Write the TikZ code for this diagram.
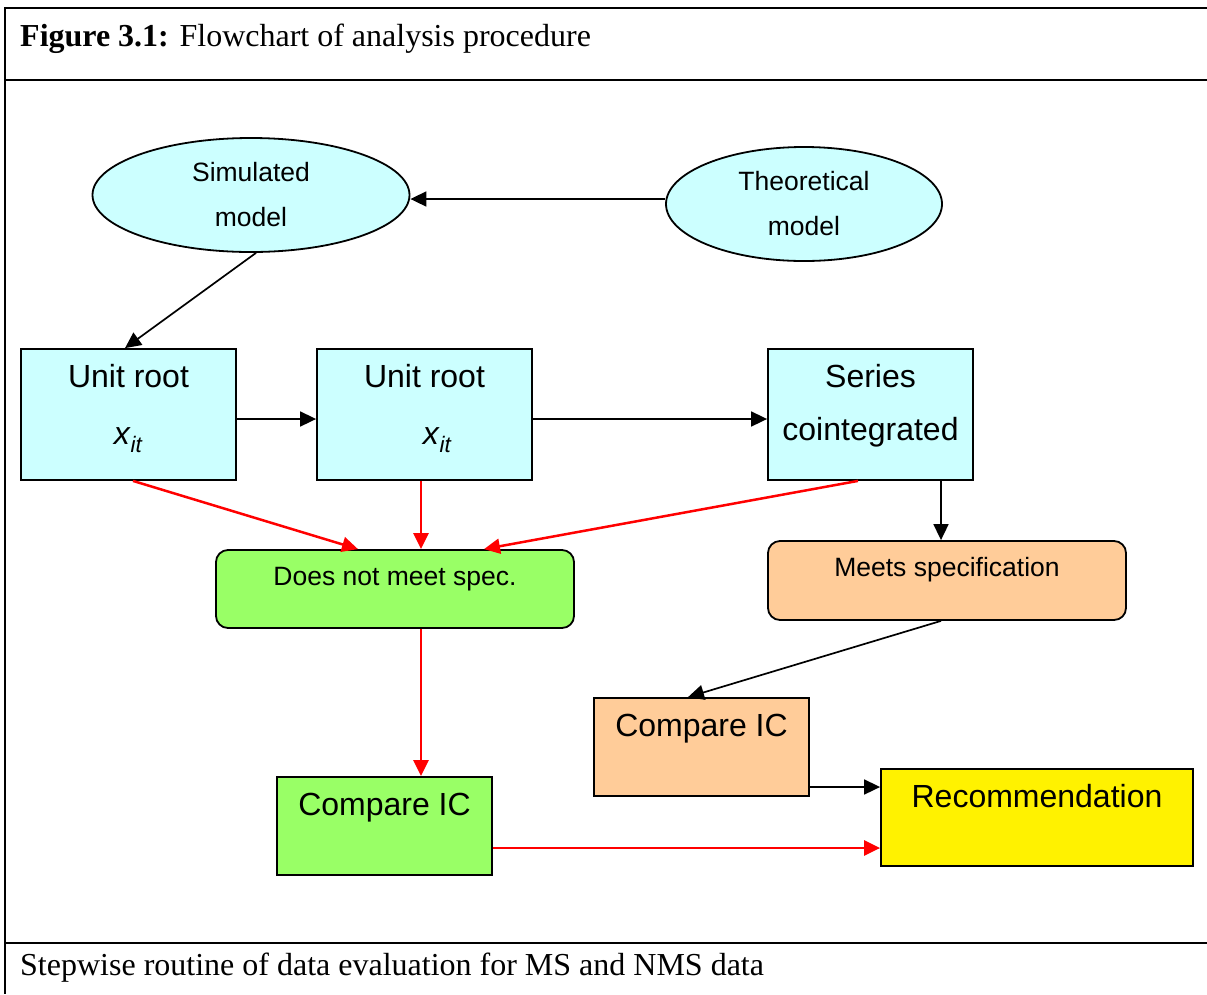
\documentclass[tikz,border=0pt]{standalone}
\usepackage{fontspec}
\setmainfont{Liberation Serif}
\setsansfont{Liberation Sans}
\usetikzlibrary{shapes.geometric,positioning,arrows.meta}
\definecolor{paleblue}{HTML}{CCFFFF}
\definecolor{palegreen}{HTML}{99FF66}
\definecolor{paleorange}{HTML}{FFCC99}
\newcommand{\xit}{\textit{x}\textsubscript{\textit{it}}}
\tikzset{
  box/.style={draw,line width=1.8pt,inner sep=0pt},
  oval/.style={box,ellipse,fill=paleblue,align=center,
    font=\sffamily\fontsize{26.5}{45}\selectfont},
  bigtxt/.style={inner sep=0pt,align=center,font=\sffamily\fontsize{32}{57}\selectfont},
  smalltxt/.style={inner sep=0pt,align=center,font=\sffamily\fontsize{26.5}{32}\selectfont},
  blk/.style={->,line width=1.7pt},
  redarr/.style={->,line width=2.5pt,red}
}
\begin{document}
\begin{tikzpicture}[x=1pt,y=-1pt,>={Triangle[length=16pt,width=15pt]}]
\useasboundingbox (0,0) rectangle (1207,994);
% frame
\draw[line width=1.5pt](1207,8)--(5,8)--(5,994);
\draw[line width=1.5pt](5,80)--(1207,80);
\draw[line width=1.5pt](5,943)--(1207,943);
\node[anchor=base west,inner sep=0pt,font=\fontsize{32}{38}\selectfont] (title) at (20,46)
  {\textbf{Figure 3.1:} Flowchart of analysis procedure};
\node[anchor=base west,inner sep=0pt,font=\fontsize{32}{38}\selectfont] (caption) at (20,975)
  {Stepwise routine of data evaluation for MS and NMS data};

% models
\node[oval,minimum width=317,minimum height=114] (sim) at (251,195) {Simulated\\model};
\node[oval,minimum width=276,minimum height=114] (theo) at (804,204) {Theoretical\\model};

% tests
\node[box,fill=paleblue,minimum width=215,minimum height=131] (ur1) at (128.5,414.5) {};
\node[box,fill=paleblue,minimum width=215,minimum height=131] (ur2) at (424.5,414.5) {};
\node[box,fill=paleblue,minimum width=205,minimum height=131] (series) at (870.5,414.5) {};
\node[bigtxt,below=16pt of ur1.north] (ur1txt) {Unit root\\\xit};
\node[bigtxt,below=16pt of ur2.north] (ur2txt) {Unit root\\\hspace*{26pt}\xit};
\node[bigtxt,font=\sffamily\fontsize{32}{53}\selectfont,below=16pt of series.north] (seriestxt) {Series\\cointegrated};

% outcomes
\node[box,fill=palegreen,rounded corners=12pt,minimum width=358,minimum height=78] (nomeet) at (395,589) {};
\node[box,fill=paleorange,rounded corners=12pt,minimum width=358,minimum height=79] (meets) at (947,580.5) {};
\node[smalltxt,below=18pt of nomeet.north] (nomeettxt) {Does not meet spec.};
\node[smalltxt,below=17pt of meets.north] (meetstxt) {Meets specification};

\node[box,fill=paleorange,minimum width=215,minimum height=98] (cmpO) at (701.5,747) {};
\node[box,fill=palegreen,minimum width=215,minimum height=98] (cmpG) at (384.5,826) {};
\node[box,fill=yellow,minimum width=312,minimum height=97] (rec) at (1037,817.5) {};
\node[bigtxt,below=16.5pt of cmpO.north] (cmpOtxt) {Compare IC};
\node[bigtxt,below=16.5pt of cmpG.north] (cmpGtxt) {Compare IC};
\node[bigtxt,below=16pt of rec.north] (rectxt) {Recommendation};

% black connectors
\draw[blk]([yshift=5pt]theo.west)--([yshift=-4pt]sim.east);
\draw[blk]([xshift=5pt]sim.south)--([xshift=-3.5pt]ur1.north);
\draw[blk]([yshift=-4.5pt]ur1.east)--([yshift=-4.5pt]ur2.west);
\draw[blk]([yshift=-4.5pt]ur2.east)--([yshift=-4.5pt]series.west);
\draw[blk]([xshift=70.5pt]series.south)--([xshift=70.5pt]series.south |- meets.north);
\draw[blk]([xshift=-6pt]meets.south)--([xshift=-13.5pt]cmpO.north);
\draw[blk]([yshift=-40pt]cmpO.east)--([yshift=-40pt]cmpO.east -| rec.west);

% red connectors
\draw[redarr]([xshift=4.5pt]ur1.south)--([xshift=-37pt]nomeet.north);
\draw[redarr]([xshift=-3.5pt]ur2.south)--([xshift=-3.5pt]ur2.south |- nomeet.north);
\draw[redarr]([xshift=-12.5pt]series.south)--([xshift=89pt]nomeet.north);
\draw[redarr]([xshift=26pt]nomeet.south)--([xshift=26pt]nomeet.south |- cmpG.north);
\draw[redarr]([yshift=-22pt]cmpG.east)--([yshift=-22pt]cmpG.east -| rec.west);
\end{tikzpicture}
\end{document}
